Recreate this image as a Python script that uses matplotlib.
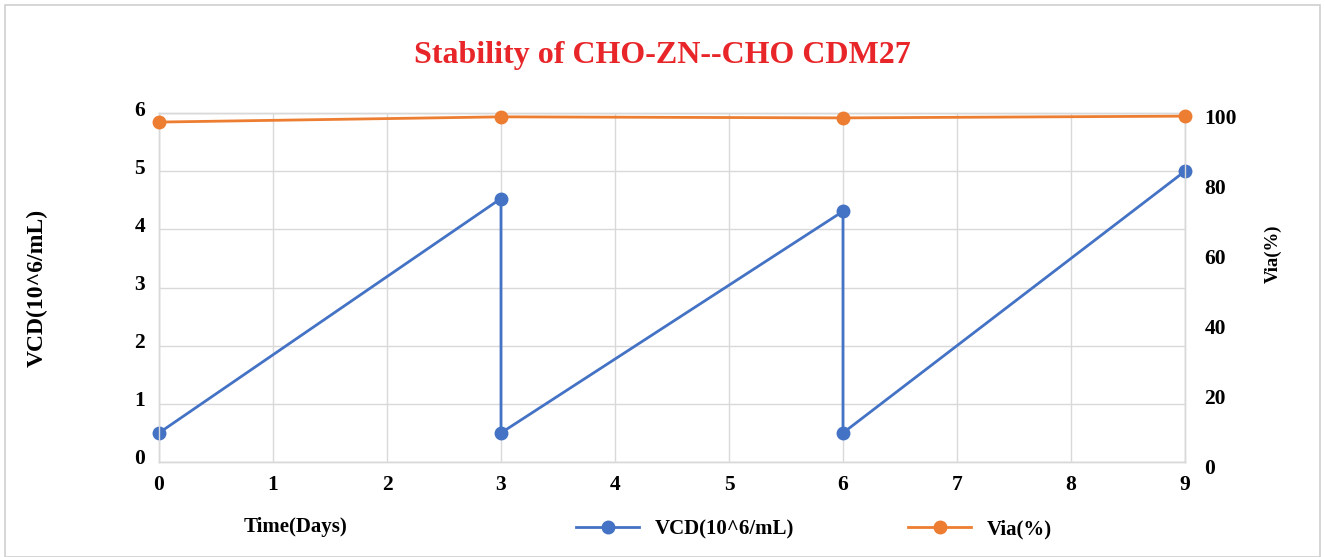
import matplotlib
matplotlib.use("Agg")
import matplotlib.pyplot as plt
from matplotlib.patches import Rectangle
from matplotlib.transforms import ScaledTranslation

days_vcd = [0, 3, 3, 6, 6, 9]
vcd = [0.5, 4.53, 0.5, 4.31, 0.5, 5.0]
days_via = [0, 3, 6, 9]
via = [97.4, 98.9, 98.6, 99.1]
x_ticks = [0, 1, 2, 3, 4, 5, 6, 7, 8, 9]
left_ticks = [0, 1, 2, 3, 4, 5, 6]
right_ticks = [0, 20, 40, 60, 80, 100]

plt.rcParams['font.family'] = ['Liberation Serif', 'DejaVu Serif']
plt.rcParams['font.weight'] = 'bold'

blue = '#4472C4'
orange = '#ED7D31'
grid = '#D9D9D9'

fig = plt.figure(figsize=(13.25, 5.57), dpi=100)
fig.patches.append(Rectangle((5/1325, 0), 1315/1325, 552/557, transform=fig.transFigure,
                             fill=False, edgecolor='#D0D0D0', linewidth=1.2))
ax = fig.add_axes([159/1325, 95/557, 1026/1325, 349/557])
ax2 = ax.twinx()

ax.plot(days_vcd, vcd, color=blue, lw=2, marker='o', ms=9, label='VCD(10^6/mL)', zorder=3,
        clip_on=False)
ax2.plot(days_via, via, color=orange, lw=2, marker='o', ms=9, label='Via(%)', zorder=3,
         clip_on=False)

ax.set_xlim(0, 9)
ax.set_ylim(0, 6)
ax2.set_ylim(0, 100)
ax.set_xticks(x_ticks)
ax.set_yticks(left_ticks)
ax2.set_yticks(right_ticks)
ax.grid(True, color=grid, lw=1)
ax.set_axisbelow(True)
for a in (ax, ax2):
    for s in a.spines.values():
        s.set_color(grid)
        s.set_linewidth(1)
    a.tick_params(length=0, labelsize=15.5)
ax.tick_params(axis='x', pad=9)
ax.tick_params(axis='y', pad=10)
ax2.tick_params(axis='y', pad=14)
for lab in ax.get_xticklabels() + ax.get_yticklabels() + ax2.get_yticklabels():
    lab.set_fontweight('bold')
up = ScaledTranslation(0, 5/100, fig.dpi_scale_trans)
down = ScaledTranslation(0, -4/100, fig.dpi_scale_trans)
for lab in ax.get_yticklabels():
    lab.set_transform(lab.get_transform() + up)
for lab in ax2.get_yticklabels():
    lab.set_transform(lab.get_transform() + down)

fig.text(0.5, 1 - 55/557, 'Stability of CHO-ZN--CHO CDM27', color='#E8262A', fontsize=23,
         fontweight='bold', ha='center', va='center')
fig.text(37/1325, 1 - 288/557, 'VCD(10^6/mL)', rotation=90, fontsize=17, fontweight='bold',
         ha='center', va='center')
fig.text(1273/1325, 1 - 254/557, 'Via(%)', rotation=90, fontsize=13.5, fontweight='bold',
         ha='center', va='center')
fig.text(296/1325, 1 - 527/557, 'Time(Days)', fontsize=15, fontweight='bold',
         ha='center', va='center')

h1, l1 = ax.get_legend_handles_labels()
h2, l2 = ax2.get_legend_handles_labels()
leg = fig.legend(h1 + h2, l1 + l2, ncol=2, loc='center', bbox_to_anchor=(814/1325, 1 - 529/557),
                 frameon=False, prop={'size': 15, 'weight': 'bold'}, handlelength=3.0,
                 columnspacing=5.5, handletextpad=0.75)

fig.savefig('out.png', dpi=100)
